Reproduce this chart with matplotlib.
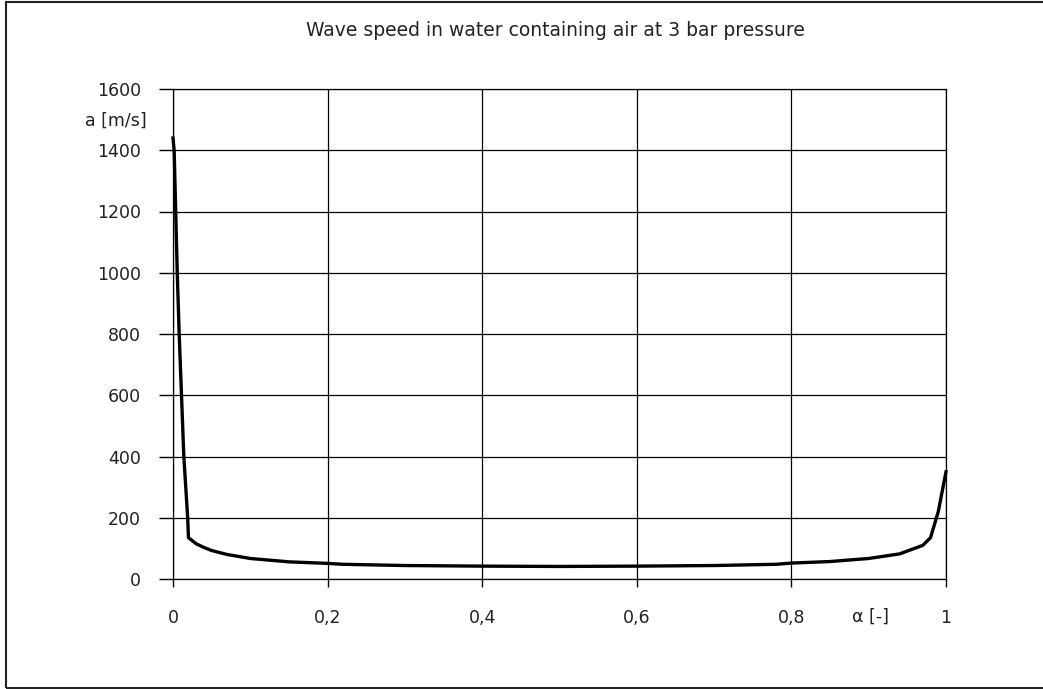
import matplotlib.pyplot as plt
from matplotlib.patches import Rectangle
from matplotlib.ticker import FixedLocator

# void fraction alpha [-] and wave speed a [m/s]
alpha = [0, 0.0015, 0.0035, 0.0055, 0.008, 0.011, 0.014, 0.019, 0.020,
         0.03, 0.04, 0.05, 0.07, 0.1, 0.15, 0.2, 0.22, 0.3, 0.4, 0.5,
         0.6, 0.7, 0.78, 0.8, 0.85, 0.9, 0.94, 0.97, 0.98, 0.99, 1.0]
speed = [1440, 1400, 1200, 1000, 800, 600, 400, 200, 135,
         115, 103, 93, 80, 67, 56, 51, 48, 44, 42, 41,
         42, 44, 48, 52, 57, 67, 82, 110, 135, 220, 350]

xticks = [0, 0.2, 0.4, 0.6, 0.8, 1.0]
xlabels = ['0', '0,2', '0,4', '0,6', '0,8', '1']
yticks = list(range(0, 1601, 200))
ylabels = [str(v) for v in yticks]

title = 'Wave speed in water containing air at 3 bar pressure'

plt.rcParams['font.family'] = ['DejaVu Sans']

fig = plt.figure(figsize=(10.43, 6.89), dpi=100)
W, H = 1043, 689

# chart border
fig.patches.append(Rectangle((6 / W, 1 - 687.5 / H), 1.2, (687.5 - 1.5) / H,
                             transform=fig.transFigure, fill=False,
                             edgecolor='#222222', linewidth=1.5))

ax = fig.add_axes([173 / W, 1 - 579 / H, (946 - 173) / W, (579 - 89) / H])
ax.plot(alpha, speed, color='black', linewidth=2.4, clip_on=False,
        solid_joinstyle='round', zorder=3)

ax.set_xlim(0, 1)
ax.set_ylim(0, 1600)
ax.xaxis.set_major_locator(FixedLocator(xticks))
ax.yaxis.set_major_locator(FixedLocator(yticks))
ax.set_xticklabels(xlabels)
ax.set_yticklabels(ylabels)
ax.tick_params(axis='x', direction='out', length=6, width=1, pad=15.5,
               labelsize=12.5, colors='black', labelcolor='#222222')
ax.tick_params(axis='y', direction='out', length=10, width=1, pad=13,
               labelsize=12.5, colors='black', labelcolor='#222222')
ax.grid(True, color='black', linewidth=0.9)
ax.set_axisbelow(True)
for side in ['left', 'bottom', 'top', 'right']:
    ax.spines[side].set_linewidth(0.9)

fig.text(555 / W, 1 - 30 / H, title, ha='center', va='center',
         fontsize=13.5, color='#222222')
fig.text(147 / W, 1 - 121 / H, 'a [m/s]', ha='right', va='center',
         fontsize=12.5, color='#222222')
fig.text(871 / W, 1 - 617 / H, 'α [-]', ha='center', va='center',
         fontsize=12.5, color='#222222')

fig.savefig('out.png', dpi=100)
